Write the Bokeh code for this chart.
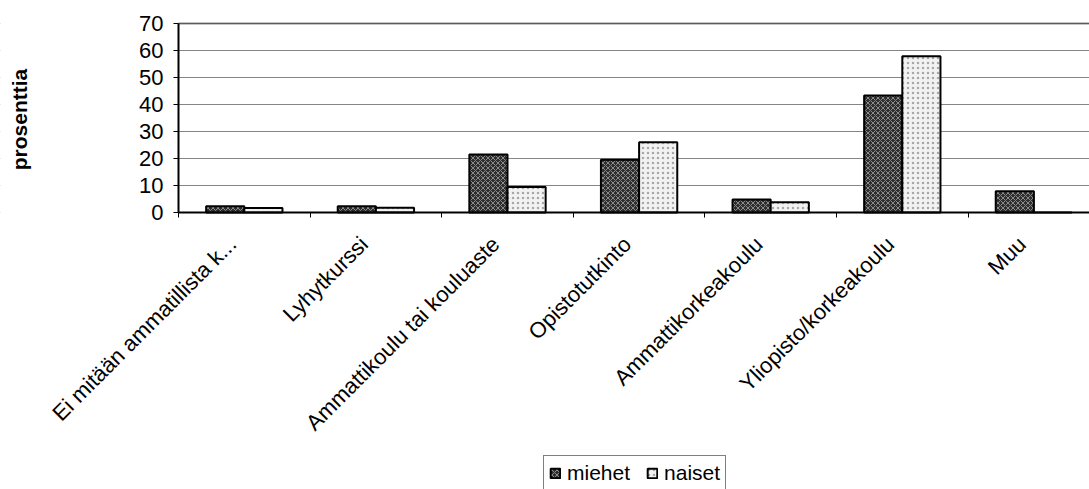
import numpy as np
from bokeh.plotting import figure
from bokeh.models import (ColumnDataSource, Range1d, FixedTicker, Span, Legend,
                          LegendItem, Label, BoxAnnotation)
from bokeh.transform import dodge
from bokeh.embed import file_html
from bokeh.resources import INLINE

categories = ["Ei mitään ammatillista k...", "Lyhytkurssi", "Ammattikoulu tai kouluaste",
              "Opistotutkinto", "Ammattikorkeakoulu", "Yliopisto/korkeakoulu", "Muu"]
miehet = [2.3, 2.3, 21.5, 19.5, 4.8, 43.3, 7.9]
naiset = [1.7, 1.8, 9.4, 26.0, 3.8, 57.9, 0.0]
y_ticks = [0, 10, 20, 30, 40, 50, 60, 70]

FONT = "Liberation Sans"
pos = np.arange(len(categories)) + 0.5
src = ColumnDataSource(dict(pos=pos, cat=categories, miehet=miehet, naiset=naiset))

# Layout: the frame covers the whole canvas; the value axis 0..70 takes 189 px
# starting TOP px from the top, the category axis starts AX_LEFT px from the left.
W, H = 1089, 489
TOP, AX_LEFT = 23, 178
CAT_PX, VAL_PX = 131.6, 189.0 / 70
x_lo = -AX_LEFT / CAT_PX
x_hi = (W - AX_LEFT) / CAT_PX
y_hi = 70 + TOP / VAL_PX
y_lo = 70 - (H - TOP) / VAL_PX

p = figure(width=W, height=H, output_backend="svg", toolbar_location=None,
           x_range=Range1d(x_lo, x_hi), y_range=Range1d(y_lo, y_hi),
           min_border_left=0, min_border_right=0, min_border_top=0,
           min_border_bottom=0)
p.outline_line_color = None
p.background_fill_color = "white"
p.border_fill_color = "white"

# grid lines (only inside the plot area)
p.ygrid.ticker = FixedTicker(ticks=y_ticks)
p.ygrid.grid_line_color = "#858585"
p.ygrid.grid_line_width = 1
p.xgrid.grid_line_color = None
p.add_layout(BoxAnnotation(right=0, fill_color="white", fill_alpha=1, line_color=None,
                           level="underlay"))

bw = 0.29
r1 = p.vbar(x=dodge("pos", -bw / 2, range=p.x_range), top="miehet", width=bw, source=src,
            fill_color="#2e2e2e", line_color="black", line_width=2,
            hatch_pattern="diagonal_cross", hatch_color="#8a8a8a", hatch_scale=5,
            hatch_weight=1)
r2 = p.vbar(x=dodge("pos", bw / 2, range=p.x_range), top="naiset", width=bw, source=src,
            fill_color="#f2f2f2", line_color="black", line_width=2,
            hatch_pattern="dot", hatch_color="#a8a8a8", hatch_scale=5, hatch_weight=1)

# top border of plot area
p.add_layout(BoxAnnotation(left=0, bottom=70, top=70, fill_alpha=0, line_color="black",
                           line_width=2.5))

# y axis at x = 0
yax = p.yaxis[0]
yax.fixed_location = 0
yax.ticker = FixedTicker(ticks=y_ticks)
yax.bounds = (0, 70)
yax.major_label_text_font = FONT
yax.major_label_text_font_size = "22px"
yax.major_label_text_color = "black"
yax.axis_line_color = "black"
yax.axis_line_width = 2
yax.major_tick_out = 5
yax.major_tick_in = 0
yax.major_tick_line_color = "black"
yax.minor_tick_line_color = None
yax.major_label_standoff = 10

# y axis title
p.add_layout(Label(x=19, y=H - 119, x_units="screen", y_units="screen", text="prosenttia",
                   angle=np.pi / 2, text_align="center", text_baseline="middle",
                   text_font=FONT, text_font_size="21px", text_font_style="bold",
                   text_color="black"))

# x axis at y = 0: labels near category centres, ticks at category boundaries
shift = 0.09
label_pos = [float(c) - shift for c in pos]
xax = p.xaxis[0]
xax.fixed_location = 0
xax.bounds = (0, x_hi)
xax.ticker = FixedTicker(ticks=label_pos, minor_ticks=list(range(len(categories) + 1)))
xax.major_label_overrides = {lp: n for lp, n in zip(label_pos, categories)}
xax.major_label_orientation = np.pi / 4
xax.major_label_text_font = FONT
xax.major_label_text_font_size = "22px"
xax.major_label_text_color = "black"
xax.major_label_standoff = 23
xax.major_tick_out = 0
xax.major_tick_in = 0
xax.minor_tick_out = 5
xax.minor_tick_in = 0
xax.minor_tick_line_color = "black"
xax.axis_line_color = "black"
xax.axis_line_width = 2

legend = Legend(items=[LegendItem(label="miehet", renderers=[r1]),
                       LegendItem(label="naiset", renderers=[r2])],
                orientation="horizontal", location=(543, -2))
legend.label_text_font = FONT
legend.label_text_font_size = "21px"
legend.label_text_color = "black"
legend.glyph_width = 12
legend.glyph_height = 12
legend.label_standoff = 6
legend.spacing = 16
legend.padding = 5
legend.margin = 0
legend.border_line_color = "black"
legend.border_line_width = 1
legend.background_fill_color = "white"
legend.background_fill_alpha = 1
p.add_layout(legend, "center")

open("out.html", "w").write(file_html(p, INLINE))
